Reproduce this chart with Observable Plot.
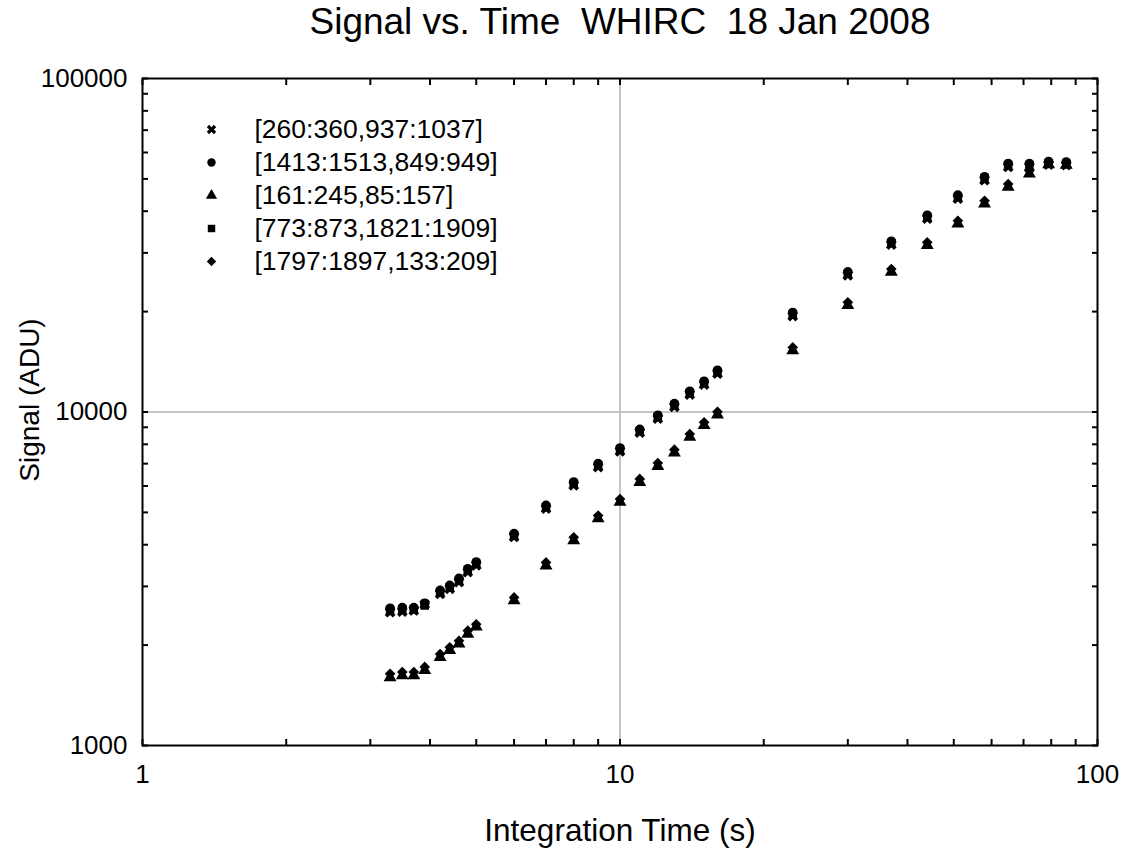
<!DOCTYPE html>
<html>
<head>
<meta charset="utf-8">
<script src="https://cdn.jsdelivr.net/npm/d3@7"></script>
<script src="https://cdn.jsdelivr.net/npm/@observablehq/plot@0.6"></script>
<style>
  html, body { margin: 0; padding: 0; background: #fff; }
  #chart svg { display: block; }
</style>
</head>
<body>
<div id="chart"></div>
<script>
// ---- data ----
const titleText = "Signal vs. Time  WHIRC  18 Jan 2008";
const xLabelText = "Integration Time (s)";
const yLabelText = "Signal (ADU)";

const seriesNames = [
  "[260:360,937:1037]",
  "[1413:1513,849:949]",
  "[161:245,85:157]",
  "[773:873,1821:1909]",
  "[1797:1897,133:209]"
];

const times = [3.3, 3.5, 3.7, 3.9, 4.2, 4.4, 4.6, 4.8, 5.0,
  6, 7, 8, 9, 10, 11, 12, 13, 14, 15, 16,
  23, 30, 37, 44, 51, 58, 65, 72, 79, 86];

const sigCross = [2510, 2520, 2540, 2650, 2850, 2950, 3090, 3310, 3470,
  4220, 5130, 6030, 6840, 7620, 8680, 9550, 10360, 11280, 12080, 13030,
  19400, 25700, 31750, 37990, 43620, 49540, 54300, 54300, 55200, 55000];
const sigCircle = [2580, 2590, 2590, 2670, 2920, 3020, 3170, 3390, 3550,
  4320, 5250, 6170, 7000, 7800, 8870, 9780, 10600, 11540, 12370, 13340,
  19880, 26330, 32520, 38900, 44700, 50740, 55600, 55600, 56400, 56200];
const sigTriangle = [1600, 1620, 1620, 1680, 1840, 1930, 2020, 2160, 2270,
  2720, 3460, 4120, 4790, 5370, 6160, 6880, 7550, 8410, 9120, 9810,
  15300, 20880, 26280, 31600, 36680, 42120, 47250, 51800, 55200, 55000];
const sigSquare = [2540, 2550, 2560, 2630, 2880, 2980, 3120, 3340, 3500,
  4260, 5180, 6090, 6910, 7700, 8760, 9650, 10460, 11390, 12200, 13160,
  19600, 25970, 32080, 38380, 44070, 50040, 54840, 54840, 55720, 55490];
const sigDiamond = [1640, 1660, 1660, 1720, 1880, 1970, 2060, 2210, 2310,
  2780, 3540, 4210, 4890, 5480, 6300, 7030, 7710, 8590, 9310, 10020,
  15620, 21320, 26840, 32270, 37450, 43000, 48250, 52900, 56000, 55800];

const xTicks = [1, 2, 3, 4, 5, 6, 7, 8, 9, 10, 20, 30, 40, 50, 60, 70, 80, 90, 100];
const xTickLabels = [1, 10, 100];
const yTicks = [1000, 2000, 3000, 4000, 5000, 6000, 7000, 8000, 9000,
  10000, 20000, 30000, 40000, 50000, 60000, 70000, 80000, 90000, 100000];
const yTickLabels = [1000, 10000, 100000];
const xGrid = [10];
const yGrid = [10000];

// ---- table built from the arrays ----
const seriesValues = [sigCross, sigCircle, sigTriangle, sigSquare, sigDiamond];
const data = [];
seriesNames.forEach((name, i) => {
  times.forEach((t, j) => data.push({series: name, t, v: seriesValues[i][j]}));
});

// filled "x" symbol
const symbolX = {
  draw(context, size) {
    const r = Math.sqrt(size / 5) / 2;
    const pts = [[-3*r,-r],[-r,-r],[-r,-3*r],[r,-3*r],[r,-r],[3*r,-r],[3*r,r],[r,r],[r,3*r],[-r,3*r],[-r,r],[-3*r,r]];
    const s = Math.SQRT1_2;
    pts.forEach(([x, y], k) => {
      const X = (x - y) * s, Y = (x + y) * s;
      if (k === 0) context.moveTo(X, Y); else context.lineTo(X, Y);
    });
    context.closePath();
  }
};
const symbolRange = [symbolX, "circle", "triangle", "square", "diamond2"];
const R = 4.8;

const legendMarks = [];
seriesNames.forEach((name, i) => {
  legendMarks.push(Plot.dot([name], {
    frameAnchor: "top-left", dx: 69, dy: 51 + i * 33,
    symbol: symbolRange[i], fill: "black", r: 4.2
  }));
  legendMarks.push(Plot.text([name], {
    frameAnchor: "top-left", dx: 112, dy: 51 + i * 33,
    text: d => d, textAnchor: "start", lineAnchor: "middle",
    fontSize: 26.5, fill: "black"
  }));
});

const chart = Plot.plot({
  width: 1125,
  height: 850,
  marginLeft: 142,
  marginRight: 28,
  marginTop: 78,
  marginBottom: 105,
  style: {fontFamily: "'Liberation Sans', Arial, sans-serif", color: "black", background: "white"},
  x: {type: "log", domain: [1, 100]},
  y: {type: "log", domain: [1000, 100000]},
  symbol: {domain: seriesNames, range: symbolRange},
  marks: [
    Plot.ruleX(xGrid, {stroke: "#c4c4c4", strokeWidth: 2}),
    Plot.ruleY(yGrid, {stroke: "#c4c4c4", strokeWidth: 2}),
    // inward ticks on all four sides
    Plot.axisX({ticks: xTicks, anchor: "bottom", tickSize: -6, tickFormat: () => "", strokeWidth: 2, label: null}),
    Plot.axisX({ticks: xTicks, anchor: "top", tickSize: -6, tickFormat: () => "", strokeWidth: 2, label: null}),
    Plot.axisY({ticks: yTicks, anchor: "left", tickSize: -6, tickFormat: () => "", strokeWidth: 2, label: null}),
    Plot.axisY({ticks: yTicks, anchor: "right", tickSize: -6, tickFormat: () => "", strokeWidth: 2, label: null}),
    // tick labels
    Plot.axisX({ticks: xTickLabels, anchor: "bottom", tickSize: 0, tickPadding: 19, tickFormat: d3.format("d"), fontSize: 26, label: null}),
    Plot.axisY({ticks: yTickLabels, anchor: "left", tickSize: 0, tickPadding: 15, tickFormat: d3.format("d"), fontSize: 26, label: null}),
    Plot.frame({stroke: "black", strokeWidth: 2}),
    // axis titles and chart title
    Plot.text([titleText], {frameAnchor: "top", dy: -56, text: d => d, fontSize: 37, lineAnchor: "middle", fill: "black"}),
    Plot.text([xLabelText], {frameAnchor: "bottom", dy: 85, text: d => d, fontSize: 31.5, lineAnchor: "middle", fill: "black"}),
    Plot.text([yLabelText], {frameAnchor: "left", dx: -112, dy: -12, rotate: -90, text: d => d, fontSize: 28, textAnchor: "middle", lineAnchor: "middle", fill: "black"}),
    // data
    Plot.dot(data, {x: "t", y: "v", symbol: "series", fill: "black", r: R}),
    ...legendMarks
  ]
});
chart.querySelectorAll("text").forEach(t => t.style.whiteSpace = "pre");
document.getElementById("chart").appendChild(chart);
</script>
</body>
</html>
